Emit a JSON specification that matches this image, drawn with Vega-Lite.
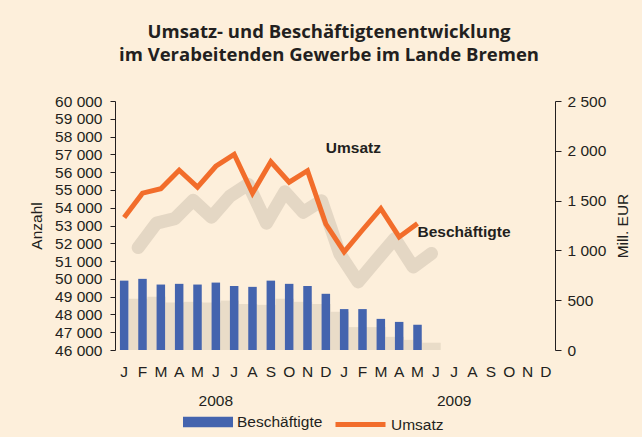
{
  "$schema": "https://vega.github.io/schema/vega-lite/v6.json",
  "autosize": {"type": "none"},
  "width": 440,
  "height": 249,
  "padding": {"left": 115, "top": 101, "right": 87, "bottom": 87},
  "background": "#FDEFDB",
  "config": {
    "view": {"stroke": null},
    "font": "Liberation Sans",
    "axis": {"labelFont": "Liberation Sans", "labelFontSize": 15.5, "labelColor": "#231F20", "titleFont": "Liberation Sans", "titleFontSize": 15.5, "titleFontWeight": "normal", "titleColor": "#231F20", "grid": false, "domainColor": "#231F20", "tickColor": "#231F20", "labelOverlap": false},
    "legend": {"labelFont": "Liberation Sans", "labelFontSize": 15.5, "labelColor": "#231F20"}
  },
  "title": {
    "text": ["Umsatz- und Beschäftigtenentwicklung", "im Verabeitenden Gewerbe im Lande Bremen"],
    "font": "Open Sans",
    "fontSize": 18.5,
    "fontWeight": "bold",
    "color": "#231F20",
    "anchor": "middle",
    "lineHeight": 23,
    "offset": 30,
    "dx": -6
  },
  "data": {
    "values": [
      {"month": "2008-01", "b": 49900, "u": 1330},
      {"month": "2008-02", "b": 50000, "u": 1575},
      {"month": "2008-03", "b": 49680, "u": 1620},
      {"month": "2008-04", "b": 49720, "u": 1805},
      {"month": "2008-05", "b": 49680, "u": 1635},
      {"month": "2008-06", "b": 49790, "u": 1845},
      {"month": "2008-07", "b": 49600, "u": 1965},
      {"month": "2008-08", "b": 49550, "u": 1575},
      {"month": "2008-09", "b": 49900, "u": 1890},
      {"month": "2008-10", "b": 49720, "u": 1685},
      {"month": "2008-11", "b": 49600, "u": 1800},
      {"month": "2008-12", "b": 49160, "u": 1265},
      {"month": "2009-01", "b": 48300, "u": 985},
      {"month": "2009-02", "b": 48300, "u": 1205},
      {"month": "2009-03", "b": 47750, "u": 1420},
      {"month": "2009-04", "b": 47580, "u": 1135},
      {"month": "2009-05", "b": 47420, "u": 1270}
    ]
  },
  "encoding": {
    "x": {
      "field": "month",
      "type": "ordinal",
      "scale": {
        "domain": ["2008-01","2008-02","2008-03","2008-04","2008-05","2008-06","2008-07","2008-08","2008-09","2008-10","2008-11","2008-12","2009-01","2009-02","2009-03","2009-04","2009-05","2009-06","2009-07","2009-08","2009-09","2009-10","2009-11","2009-12"],
        "paddingInner": 0, "paddingOuter": 0
      },
      "axis": {
        "title": null,
        "domain": false,
        "ticks": false,
        "labelAngle": 0,
        "labelPadding": 14,
        "labelLineHeight": 29,
        "labelExpr": "datum.value == '2008-06' ? ['J', '2008'] : datum.value == '2009-07' ? ['J', '2009'] : substring('JFMAMJJASOND', toNumber(substring(datum.value, 5, 7)) - 1, toNumber(substring(datum.value, 5, 7)))"
      }
    }
  },
  "layer": [
    {
      "encoding": {
        "y": {
          "field": "b", "type": "quantitative",
          "scale": {"domain": [46000, 60000], "zero": false, "nice": false},
          "axis": {
            "title": "Anzahl",
            "orient": "left",
            "values": [46000,47000,48000,49000,50000,51000,52000,53000,54000,55000,56000,57000,58000,59000,60000],
            "labelExpr": "replace(format(datum.value, ','), ',', ' ')",
            "labelOverlap": false,
            "tickSize": 5,
            "labelPadding": 8,
            "titlePadding": 10
          }
        },
        "y2": {"datum": 46000}
      },
      "layer": [
        {
          "mark": {"type": "bar", "color": "#9A907E", "opacity": 0.2, "xOffset": 14, "yOffset": 18, "width": {"band": 1}}
        },
        {
          "mark": {"type": "bar", "size": 8.5},
          "encoding": {
            "fill": {
              "datum": "Beschäftigte",
              "scale": {"domain": ["Beschäftigte"], "range": ["#4464AE"]},
              "legend": {"title": null, "orient": "none", "legendX": 68, "legendY": 296, "symbolType": "M-1,-0.21H1V0.21H-1Z", "symbolSize": 2500, "symbolStrokeWidth": 0, "labelOffset": 4}
            }
          }
        }
      ]
    },
    {
      "encoding": {
        "y": {
          "field": "u", "type": "quantitative",
          "scale": {"domain": [0, 2500], "nice": false},
          "axis": {
            "title": "Mill. EUR",
            "orient": "right",
            "values": [0, 500, 1000, 1500, 2000, 2500],
            "labelExpr": "replace(format(datum.value, ','), ',', ' ')",
            "labelOverlap": false,
            "tickSize": 6,
            "labelPadding": 6,
            "titlePadding": 10,
            "titleAngle": 270,
            "titleBaseline": "top"
          }
        }
      },
      "layer": [
        {
          "mark": {"type": "line", "color": "#9A907E", "opacity": 0.25, "strokeWidth": 13, "xOffset": 14, "yOffset": 30, "strokeCap": "round", "strokeJoin": "round"}
        },
        {
          "mark": {"type": "line", "strokeWidth": 5, "strokeJoin": "miter"},
          "encoding": {
            "stroke": {
              "datum": "Umsatz",
              "scale": {"domain": ["Umsatz"], "range": ["#F26D2B"]},
              "legend": {"title": null, "orient": "none", "legendX": 218, "legendY": 296, "symbolType": "stroke", "symbolSize": 2500, "symbolStrokeWidth": 5, "labelOffset": 3}
            }
          }
        },
        {
          "data": {"values": [
            {"month": "2008-12", "u": 2030, "label": "Umsatz"},
            {"month": "2009-05", "u": 1185, "label": "Beschäftigte"}
          ]},
          "mark": {"type": "text", "align": "left", "baseline": "middle", "fontWeight": "bold", "fontSize": 15.5, "color": "#231F20", "font": "Liberation Sans"},
          "encoding": {
            "text": {"field": "label"}
          }
        }
      ]
    }
  ],
  "resolve": {"scale": {"y": "independent"}}
}
